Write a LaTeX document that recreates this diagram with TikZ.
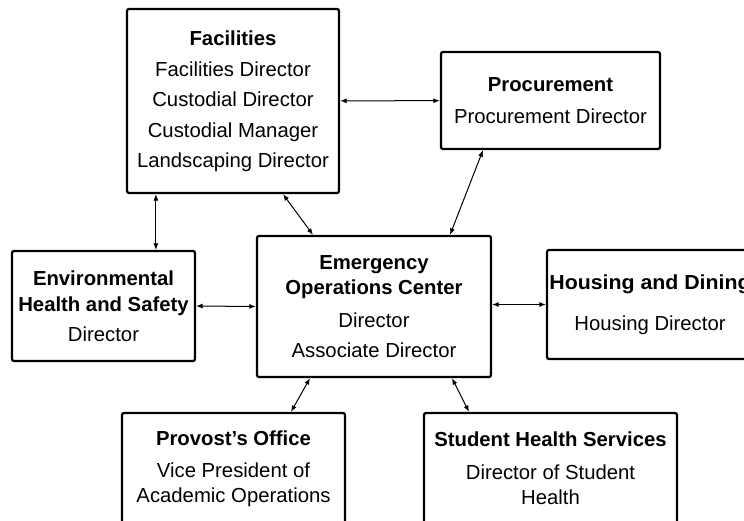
\documentclass[tikz,border=0pt]{standalone}
\usepackage{fontspec}
\setmainfont{Liberation Sans}
\usetikzlibrary{calc,arrows.meta}

\begin{document}
\begin{tikzpicture}[x = 1pt, y = -1pt,
  unit/.style = {draw, line width = 2.2pt, rounded corners = 2pt, align = center,
    inner sep = 0pt, font = \fontsize{20.3}{25.5}\selectfont},
  link/.style = {{Latex[length=6.5pt,width=5pt]}-{Latex[length=6.5pt,width=5pt]}, line width = 1pt}]
\useasboundingbox (0,0) rectangle (744,520);
\clip (0,0) rectangle (744,520);
% boxes
\node [unit, minimum width = 212, minimum height = 184] (fac) at (233,101)
  {\textbf{Facilities}\\[5.5pt] Facilities Director\\[5pt] Custodial Director\\[5pt] Custodial Manager\\[5pt] Landscaping Director};
\node [unit, minimum width = 219, minimum height = 97] (proc) at (550.5,100.5)
  {\textbf{Procurement}\\[7pt] Procurement Director};
\node [unit, minimum width = 183, minimum height = 110] (env) at (103.5,306)
  {\textbf{Environmental}\\ \textbf{Health and Safety}\\[4.5pt] Director};
\node [unit, minimum width = 234, minimum height = 141] (eoc) at (374,306.5)
  {\textbf{Emergency}\\ \textbf{Operations Center}\\[7pt] Director\\[4.5pt] Associate Director};
\node [unit, minimum width = 206, minimum height = 109] (hous) at (650,304.5)
  {\scalebox{1.05}[1]{\textbf{Housing and Dining}}\\[16pt] Housing Director};
\node [unit, minimum width = 223, minimum height = 111] (prov) at (233.5,468.5)
  {\textbf{Provost’s Office}\\[6.5pt] Vice President of\\ Academic Operations};
\node [unit, minimum width = 253, minimum height = 111] (shs) at (550.5,468.5)
  {\textbf{Student Health Services}\\[7pt] Director of Student\\ Health};
% connectors
\draw [link] (fac) -- (proc);
\draw [link] ([xshift = 30pt]fac.south west) -- ([xshift = 30pt]fac.south west |- env.north);
\draw [link] ([xshift = 50pt]fac.south) -- ([xshift = -61pt]eoc.north);
\draw [link] ([xshift = -67.5pt]proc.south) -- ([xshift = 76pt]eoc.north);
\draw [link] (env.east) -- (eoc.west);
\draw [link] (eoc.east |- hous.west) -- (hous.west);
\draw [link] ([xshift = -64pt]eoc.south) -- ([xshift = 57.5pt]prov.north);
\draw [link] ([xshift = 78pt]eoc.south) -- ([xshift = -81.5pt]shs.north);
\end{tikzpicture}
\end{document}
